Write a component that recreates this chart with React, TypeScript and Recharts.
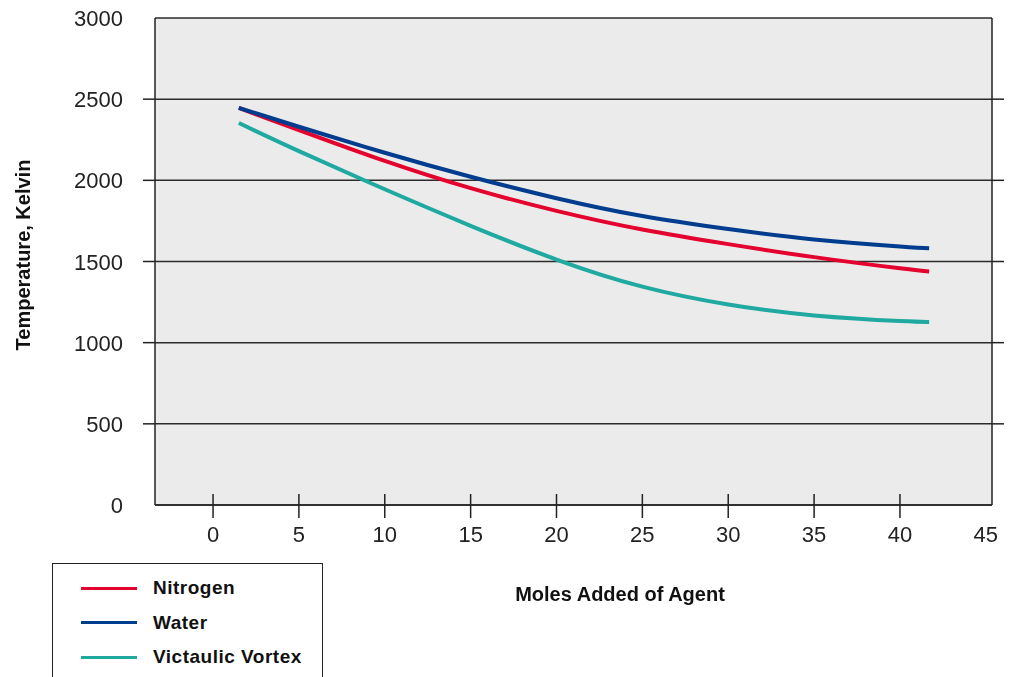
import { LineChart, Line, XAxis, YAxis, CartesianGrid, Legend, Label } from "recharts";

const FONT = "'Liberation Sans', Arial, sans-serif";
const INK = "#222";
const PLOT_W = 837;

// moles of agent added (x) and temperatures in Kelvin
const moles = [1.5, 5, 10, 15, 20, 25, 30, 35, 40, 41.7];
const nitrogen = [2446, 2310, 2120, 1952, 1812, 1697, 1607, 1527, 1458, 1438];
const water = [2446, 2330, 2170, 2022, 1890, 1780, 1700, 1636, 1592, 1581];
const vortex = [2353, 2180, 1945, 1720, 1512, 1345, 1235, 1168, 1133, 1128];

const xTicks = [0, 5, 10, 15, 20, 25, 30, 35, 40, 45];
const yTicks = [0, 500, 1000, 1500, 2000, 2500, 3000];
const gridTicks = [500, 1000, 1500, 2000, 2500];

const series = [
	{ key: "nitrogen", name: "Nitrogen", color: "#e4032e" },
	{ key: "water", name: "Water", color: "#003d8f" },
	{ key: "vortex", name: "Victaulic Vortex", color: "#1fa9a1" },
];

const rows = moles.map((x, i) => ({
	x,
	nitrogen: nitrogen[i],
	water: water[i],
	vortex: vortex[i],
}));

const XTick = ({ x, y, payload }: any) => (
	<g>
		{payload.value !== 45 && (
			<line x1={x} x2={x} y1={y - 11} y2={y + 13} stroke={INK} strokeWidth={1.5} />
		)}
		<text x={x} y={y + 37} textAnchor="middle" fontSize={22} fill={INK} fontFamily={FONT}>
			{payload.value}
		</text>
	</g>
);

// label plus the short stubs of the grid line that stick out of the plot box
const YTick = ({ x, y, payload }: any) => (
	<g>
		{gridTicks.includes(payload.value) && (
			<>
				<line x1={x - 12} x2={x} y1={y} y2={y} stroke={INK} strokeWidth={1.5} />
				<line
					x1={x + PLOT_W}
					x2={x + PLOT_W + 12}
					y1={y}
					y2={y}
					stroke={INK}
					strokeWidth={1.5}
				/>
			</>
		)}
		<text x={x - 32} y={y + 8} textAnchor="end" fontSize={22} fill={INK} fontFamily={FONT}>
			{payload.value}
		</text>
	</g>
);

const renderLegend = ({ payload }: any) => {
	const items = [...(payload || [])].sort(
		(a: any, b: any) =>
			series.findIndex((s) => s.name === a.value) -
			series.findIndex((s) => s.name === b.value)
	);
	return (
		<div
			style={{
				boxSizing: "border-box",
				width: 271,
				height: 114,
				border: `1.5px solid ${INK}`,
				borderBottom: "none",
				paddingTop: 7,
				background: "#fff",
			}}
		>
			{items.map((item: any) => (
				<div
					key={item.value}
					style={{ display: "flex", alignItems: "center", height: 34.5 }}
				>
					<div
						style={{ width: 56, height: 3, marginLeft: 28, background: item.color }}
					/>
					<span
						style={{
							marginLeft: 16,
							fontFamily: FONT,
							fontWeight: 700,
							fontSize: 19,
							letterSpacing: 0.5,
							color: "#111",
						}}
					>
						{item.value}
					</span>
				</div>
			))}
		</div>
	);
};

export default function App() {
	return (
		<div
			style={{
				position: "fixed",
				left: 0,
				top: 0,
				width: 1018,
				height: 677,
				overflow: "hidden",
				fontFamily: FONT,
			}}
		>
			<LineChart
				width={1018}
				height={677}
				data={rows}
				margin={{ top: 18, right: 0, bottom: 112, left: 0 }}
			>
				<CartesianGrid
					yAxisId="left"
					vertical={false}
					fill="#ebebeb"
					fillOpacity={1}
					stroke="#2b2b2b"
					strokeWidth={1.5}
				/>
				<XAxis
					type="number"
					dataKey="x"
					domain={[-3.38, 45.36]}
					ticks={xTicks}
					interval={0}
					allowDataOverflow
					tickSize={0}
					tickMargin={0}
					tickLine={false}
					axisLine={{ stroke: INK, strokeWidth: 1.5 }}
					height={60}
					tick={(props: any) => <XTick {...props} />}
				>
					<Label
						content={() => (
							<text
								x={620}
								y={601}
								textAnchor="middle"
								fontSize={20}
								fontWeight={700}
								fill="#111"
								fontFamily={FONT}
							>
								Moles Added of Agent
							</text>
						)}
					/>
				</XAxis>
				<YAxis
					yAxisId="left"
					type="number"
					domain={[0, 3000]}
					ticks={yTicks}
					interval={0}
					width={155}
					tickSize={0}
					tickMargin={0}
					tickLine={false}
					axisLine={{ stroke: INK, strokeWidth: 1.5 }}
					tick={(props: any) => <YTick {...props} />}
				>
					<Label
						content={() => (
							<text
								x={23}
								y={255}
								transform="rotate(-90 23 255)"
								textAnchor="middle"
								dominantBaseline="central"
								fontSize={20}
								fontWeight={700}
								fill="#111"
								fontFamily={FONT}
							>
								Temperature, Kelvin
							</text>
						)}
					/>
				</YAxis>
				<YAxis
					yAxisId="right"
					orientation="right"
					type="number"
					domain={[0, 3000]}
					width={26}
					tick={false}
					tickLine={false}
					axisLine={{ stroke: INK, strokeWidth: 1.5 }}
				/>
				{series.map((s) => (
					<Line
						key={s.key}
						yAxisId="left"
						type="natural"
						dataKey={s.key}
						name={s.name}
						stroke={s.color}
						strokeWidth={4}
						dot={false}
						activeDot={false}
						isAnimationActive={false}
					/>
				))}
				<Legend
					layout="horizontal"
					verticalAlign="middle"
					align="center"
					wrapperStyle={{ left: 52, top: 563, width: 271, height: 114 }}
					content={renderLegend}
				/>
			</LineChart>
		</div>
	);
}
